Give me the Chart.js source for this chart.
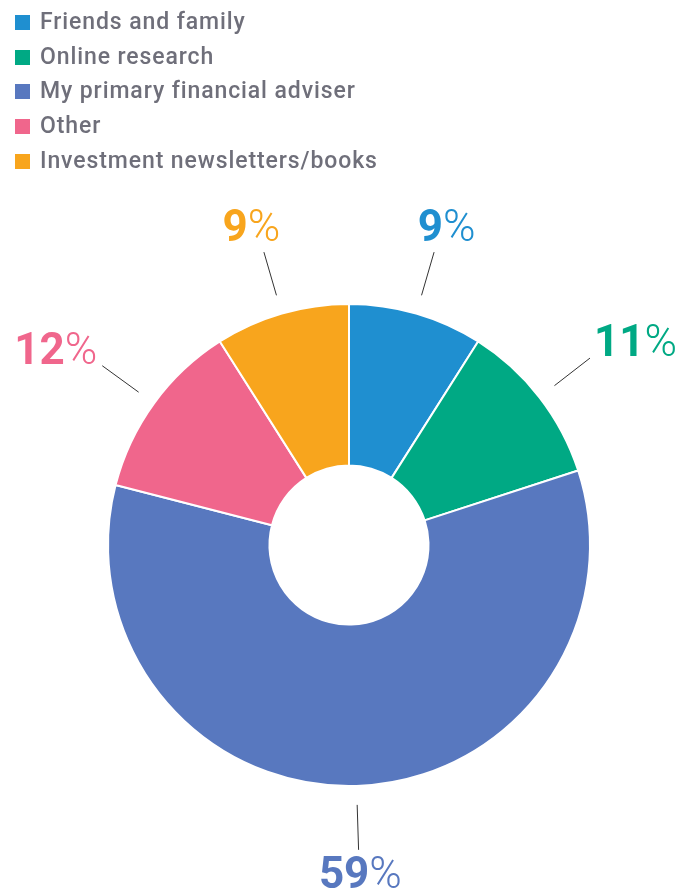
<!DOCTYPE html>
<html>
<head>
<meta charset="utf-8">
<script src="https://cdn.jsdelivr.net/npm/chart.js@4"></script>
<style>
  body { margin: 0; background: #fff; }
  #wrap { position: relative; width: 686px; height: 895px; }
  #myChart { position: absolute; left: 0; top: 0; }
  #legend { position: absolute; left: 15px; top: 5px; font-family: Roboto, sans-serif; font-size: 23px; letter-spacing: 0.9px; font-weight: 500; color: #6f6f7a; }
  #legend div { height: 34.7px; line-height: 34.7px; white-space: nowrap; }
  #legend span { display: inline-block; width: 15px; height: 15px; margin-right: 10px; vertical-align: -1px; }
</style>
</head>
<body>
<div id="wrap">
  <canvas id="myChart" width="686" height="895"></canvas>
  <div id="legend"></div>
</div>
<script>
const labels = ['Friends and family', 'Online research', 'My primary financial adviser', 'Other', 'Investment newsletters/books'];
const shares = [9, 11, 59, 12, 9];
const colors = ['#1f8fd0', '#00a984', '#5878bf', '#f0668c', '#f8a51d'];

const legend = document.getElementById('legend');
labels.forEach(function(name, i) {
    const row = document.createElement('div');
    const box = document.createElement('span');
    box.style.background = colors[i];
    row.appendChild(box);
    row.appendChild(document.createTextNode(name));
    legend.appendChild(row);
});

// percentage labels with leader lines outside each slice
const outsideLabels = {
    id: 'outsideLabels',
    afterDatasetsDraw(chart) {
        const ctx = chart.ctx;
        const meta = chart.getDatasetMeta(0);
        meta.data.forEach(function(arc, i) {
            const p = arc.getProps(['x', 'y', 'startAngle', 'endAngle', 'outerRadius'], true);
            const mid = (p.startAngle + p.endAngle) / 2;
            const cx = Math.cos(mid), cy = Math.sin(mid);
            const r1 = p.outerRadius + 19, r2 = p.outerRadius + 64, r3 = p.outerRadius + 80;

            ctx.save();
            ctx.strokeStyle = '#333';
            ctx.lineWidth = 1;
            ctx.beginPath();
            ctx.moveTo(p.x + cx * r1, p.y + cy * r1);
            ctx.lineTo(p.x + cx * r2, p.y + cy * r2);
            ctx.stroke();

            const num = String(shares[i]);
            const boldFont = '700 44px Roboto, sans-serif';
            const lightFont = '300 44px Roboto, sans-serif';
            ctx.font = boldFont;
            const w1 = ctx.measureText(num).width;
            ctx.font = lightFont;
            const w2 = ctx.measureText('%').width;
            const hw = (w1 + w2) / 2, hh = 9;
            const tx = p.x + cx * r3 + hw * cx;
            const ty = p.y + cy * r3 + hh * cy;

            ctx.fillStyle = colors[i];
            ctx.textBaseline = 'middle';
            ctx.textAlign = 'left';
            ctx.font = boldFont;
            ctx.fillText(num, tx - hw, ty + 2);
            ctx.font = lightFont;
            ctx.fillText('%', tx - hw + w1, ty + 2);
            ctx.restore();
        });
    }
};

const ctx = document.getElementById('myChart').getContext('2d');
const chart = new Chart(ctx, {
    type: 'doughnut',
    data: {
        labels: labels,
        datasets: [{
            data: shares,
            backgroundColor: colors,
            borderColor: '#fff',
            borderWidth: 2,
            hoverOffset: 0
        }]
    },
    options: {
        responsive: false,
        animation: false,
        cutout: '33%',
        layout: {
            padding: { top: 303, left: 107, right: 95, bottom: 108 }
        },
        plugins: {
            legend: { display: false },
            tooltip: { enabled: false }
        }
    },
    plugins: [outsideLabels]
});
</script>
</body>
</html>
